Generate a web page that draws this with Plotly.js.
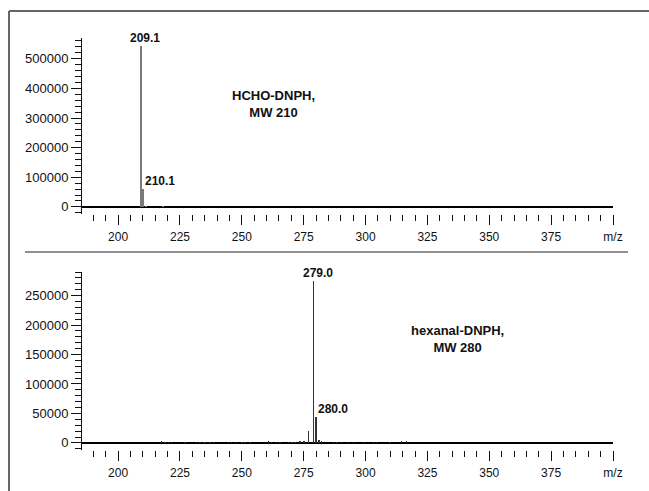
<!DOCTYPE html>
<html>
<head>
<meta charset="utf-8">
<script src="https://cdn.plot.ly/plotly-3.0.1.min.js"></script>
<style>
  html, body { margin: 0; padding: 0; background: #fff; }
  #chart { width: 649px; height: 491px; }
</style>
</head>
<body>
<div id="chart"></div>
<script>
// ---- Data ----
// Top spectrum: HCHO-DNPH, MW 210
const hchoMz        = [209.1, 210.1, 211.2, 218.3];
const hchoIntensity = [543000, 61000, 4000, 2500];

// Bottom spectrum: hexanal-DNPH, MW 280
const hexMz        = [217.6, 219.0, 220.3, 221.6, 227.0, 231.8, 233.1, 234.4, 235.1, 237.1,
                      238.5, 244.5, 245.9, 247.9, 250.0, 251.3, 253.3, 260.7, 262.1, 264.1,
                      265.4, 268.8, 270.2, 271.5, 273.5, 275.1, 276.9, 279.0, 280.0, 281.2,
                      282.3, 287.0, 288.4, 290.4, 293.1, 295.1, 299.1, 303.1, 304.5, 309.9,
                      314.6, 316.6];
const hexIntensity = [2500, 1800, 2000, 1500, 1500, 1500, 2200, 1800, 1500, 1800,
                      1500, 1800, 2200, 2000, 2200, 1800, 1500, 2500, 2000, 1800,
                      1500, 1800, 1800, 2000, 2500, 3500, 19500, 275000, 44000, 4500,
                      2500, 1800, 1500, 1800, 1500, 1500, 1500, 2200, 1800, 1500,
                      2500, 2500];

// Peak labels
const hchoPeakLabels = [{mz: 209.1, text: "209.1", side: "center"}, {mz: 210.1, text: "210.1", side: "left"}];
const hexPeakLabels  = [{mz: 279.0, text: "279.0", side: "center"}, {mz: 280.0, text: "280.0", side: "left"}];

// Compound labels
const hchoTitle = "HCHO-DNPH,<br>MW 210";
const hexTitle  = "hexanal-DNPH,<br>MW 280";

// Axis ticks
const xTickVals = [200, 225, 250, 275, 300, 325, 350, 375, 400];
const xTickText = ["200", "225", "250", "275", "300", "325", "350", "375", "m/z"];

// ---- Layout helpers ----
const W = 649, H = 491;
const px = v => v / W;
const py = v => 1 - v / H;

const tickFontX = {family: "Liberation Sans Narrow, Arial Narrow, Liberation Sans, Arial, sans-serif", size: 12, color: "#111"};
const tickFontY = {family: "Liberation Sans, Arial, sans-serif", size: 13, color: "#111"};
const boldNarrow = {family: "Liberation Sans Narrow, Arial Narrow, Liberation Sans, Arial, sans-serif", size: 12, color: "#111", weight: "bold"};
const boldTitle  = {family: "Liberation Sans, Arial, sans-serif", size: 13, color: "#111", weight: "bold"};

function xAxis(anchor) {
  return {
    domain: [px(82), px(613)],
    range: [185.4, 400],
    anchor: anchor,
    showgrid: false, zeroline: false, showline: false,
    ticks: "outside", ticklen: 10, tickwidth: 1, tickcolor: "#111",
    tickvals: xTickVals, ticktext: xTickText,
    tickfont: tickFontX,
    ticklabelstandoff: 2,
    minor: {dtick: 5, tick0: 0, ticks: "outside", ticklen: 6, tickwidth: 1, tickcolor: "#111", showgrid: false},
    fixedrange: true
  };
}
function yAxis(anchor, domain, range, dtick, minorDtick) {
  return {
    domain: domain,
    range: range,
    anchor: anchor,
    showgrid: false,
    zeroline: true, zerolinecolor: "#000", zerolinewidth: 1.5,
    showline: true, linecolor: "#111", linewidth: 1,
    ticks: "outside", ticklen: 10, tickwidth: 1, tickcolor: "#111",
    dtick: dtick, tick0: 0, tickformat: "d",
    tickfont: tickFontY,
    minor: {dtick: minorDtick, tick0: 0, ticks: "outside", ticklen: 6, tickwidth: 1, tickcolor: "#111", showgrid: false},
    fixedrange: true
  };
}

const traces = [
  {type: "bar", x: hchoMz, y: hchoIntensity, width: 0.8, xaxis: "x", yaxis: "y",
   marker: {color: "#7a7a7a", line: {width: 0}}, hoverinfo: "x+y"},
  {type: "bar", x: hexMz, y: hexIntensity, width: 0.55, xaxis: "x2", yaxis: "y2",
   marker: {color: "#333", line: {width: 0}}, hoverinfo: "x+y"}
];

function peakAnnotations(labels, mzArr, valArr, xref, yref) {
  return labels.map(l => {
    const i = mzArr.indexOf(l.mz);
    return {
      x: l.mz, y: valArr[i], xref: xref, yref: yref,
      text: l.text, showarrow: false, font: boldNarrow,
      xanchor: l.side, yanchor: "bottom",
      xshift: l.side === "center" ? 4 : 0, yshift: -1
    };
  });
}

const annotations = []
  .concat(peakAnnotations(hchoPeakLabels, hchoMz, hchoIntensity, "x", "y"))
  .concat(peakAnnotations(hexPeakLabels, hexMz, hexIntensity, "x2", "y2"))
  .concat([
    {x: px(273), y: py(104), xref: "paper", yref: "paper", text: hchoTitle, showarrow: false,
     font: boldTitle, align: "center", xanchor: "center", yanchor: "middle"},
    {x: px(457), y: py(339), xref: "paper", yref: "paper", text: hexTitle, showarrow: false,
     font: boldTitle, align: "center", xanchor: "center", yanchor: "middle"}
  ]);

const shapes = [
  // outer frame (left and top edges)
  {type: "line", xref: "paper", yref: "paper", x0: px(9), x1: px(9), y0: 0, y1: py(11),
   line: {color: "#666", width: 2}},
  {type: "line", xref: "paper", yref: "paper", x0: px(9), x1: 1, y0: py(11), y1: py(11),
   line: {color: "#666", width: 2}},
  // separator between panels
  {type: "line", xref: "paper", yref: "paper", x0: px(25), x1: px(628), y0: py(252), y1: py(252),
   line: {color: "#222", width: 1}}
];

const layout = {
  width: W, height: H,
  margin: {l: 0, r: 0, t: 0, b: 0, pad: 0},
  paper_bgcolor: "#fff", plot_bgcolor: "#fff",
  showlegend: false,
  bargap: 0,
  xaxis: xAxis("y"),
  yaxis: yAxis("x", [py(214), py(38)], [-24000, 570000], 100000, 20000),
  xaxis2: xAxis("y2"),
  yaxis2: yAxis("x2", [py(450), py(272)], [-12000, 290000], 50000, 10000),
  annotations: annotations,
  shapes: shapes
};

Plotly.newPlot("chart", traces, layout, {displayModeBar: false, staticPlot: true});
</script>
</body>
</html>
